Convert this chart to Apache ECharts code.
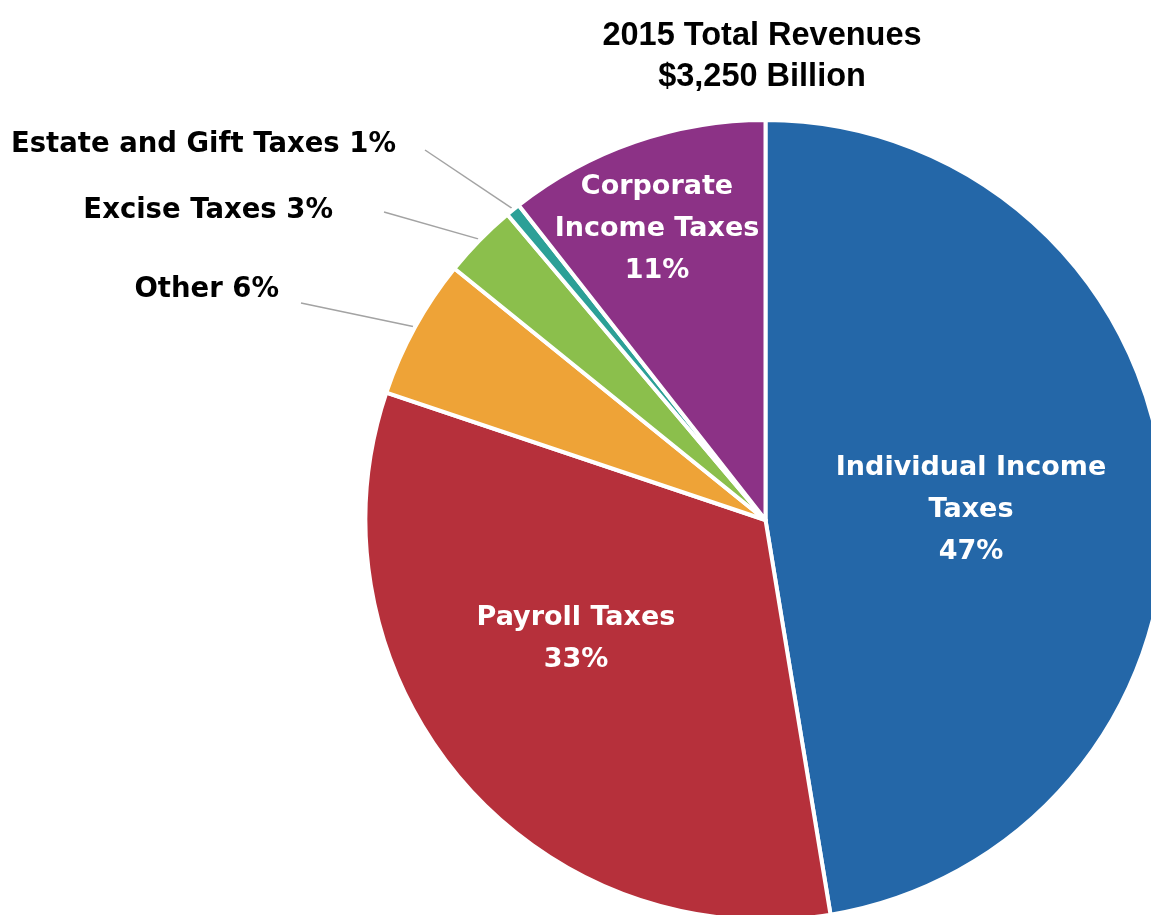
<!DOCTYPE html>
<html>
<head>
<meta charset="utf-8">
<title>2015 Total Revenues</title>
<script src="https://cdn.jsdelivr.net/npm/echarts@6/dist/echarts.min.js"></script>
<style>
  html, body { margin: 0; padding: 0; background: #ffffff; }
  #chart { width: 1151px; height: 915px; }
</style>
</head>
<body>
<div id="chart"></div>
<script>
// Federal revenue sources, fiscal year 2015 (billions of dollars)
const categories = [
  'Individual Income Taxes',
  'Payroll Taxes',
  'Other',
  'Excise Taxes',
  'Estate and Gift Taxes',
  'Corporate Income Taxes'
];
const revenues = [1541, 1065, 184, 98, 19, 344];
const sliceColors = ['#2467a8', '#b6303b', '#eea337', '#8bbf4c', '#2ca097', '#8c3286'];
const labelText = [
  'Individual Income\nTaxes',
  'Payroll Taxes',
  'Other',
  'Excise Taxes',
  'Estate and Gift Taxes',
  'Corporate\nIncome Taxes'
];
const titleLines = ['2015 Total Revenues', '$3,250 Billion'];

// Pie geometry
const CX = 765.5, CY = 520, R = 400;

// Where each label sits; outside labels are right-aligned with a straight leader line
const labelSpots = [
  { x: 971, y: 510, inside: true },
  { x: 576, y: 639, inside: true },
  { x: 279, y: 290, inside: false, lineFrom: [301, 303] },
  { x: 333, y: 211, inside: false, lineFrom: [384, 212] },
  { x: 396, y: 145, inside: false, lineFrom: [425, 150] },
  { x: 657, y: 229, inside: true }
];

const LABEL_FONT = '"DejaVu Sans", "Liberation Sans", sans-serif';

const chart = echarts.init(document.getElementById('chart'), null, { renderer: 'canvas' });

const seriesData = categories.map(function (name, i) {
  const spot = labelSpots[i];
  return {
    name: name,
    value: revenues[i],
    itemStyle: { color: sliceColors[i] },
    label: spot.inside ? {
      position: 'inside',
      color: '#ffffff',
      fontFamily: LABEL_FONT,
      fontWeight: 'bold',
      fontSize: 27,
      lineHeight: 42,
      align: 'center'
    } : {
      position: 'outside',
      color: '#000000',
      fontFamily: LABEL_FONT,
      fontWeight: 'bold',
      fontSize: 27.5,
      lineHeight: 34
    },
    labelLine: {
      show: !spot.inside,
      lineStyle: { color: '#a3a3a3', width: 1.5 }
    }
  };
});

chart.setOption({
  animation: false,
  backgroundColor: '#ffffff',
  title: {
    text: titleLines.join('\n'),
    left: 757,
    top: 11,
    textAlign: 'center',
    textStyle: {
      fontFamily: '"Liberation Sans", Arial, sans-serif',
      fontWeight: 'bold',
      fontSize: 32.5,
      lineHeight: 41,
      color: '#000000'
    }
  },
  series: [{
    type: 'pie',
    center: [CX, CY],
    radius: [0, R],
    startAngle: 90,
    clockwise: true,
    avoidLabelOverlap: false,
    emphasis: { disabled: true },
    itemStyle: { borderColor: '#ffffff', borderWidth: 4 },
    label: {
      show: true,
      formatter: function (p) {
        const pct = Math.round(p.percent) + '%';
        const text = labelText[p.dataIndex];
        return labelSpots[p.dataIndex].inside ? text + '\n' + pct : text + ' ' + pct;
      }
    },
    labelLayout: function (params) {
      const spot = labelSpots[params.dataIndex];
      if (spot.inside) {
        return { x: spot.x, y: spot.y, align: 'center', verticalAlign: 'middle' };
      }
      // leader line: from beside the text to just outside the slice edge
      let edge = params.labelLinePoints && params.labelLinePoints[0];
      if (edge) {
        const dx = edge[0] - CX, dy = edge[1] - CY;
        const len = Math.sqrt(dx * dx + dy * dy) || 1;
        edge = [edge[0] + dx / len * 2, edge[1] + dy / len * 2];
      }
      const pts = edge ? [spot.lineFrom, spot.lineFrom, edge] : undefined;
      return {
        x: spot.x,
        y: spot.y,
        align: 'right',
        verticalAlign: 'middle',
        labelLinePoints: pts
      };
    },
    data: seriesData
  }]
});
</script>
</body>
</html>
